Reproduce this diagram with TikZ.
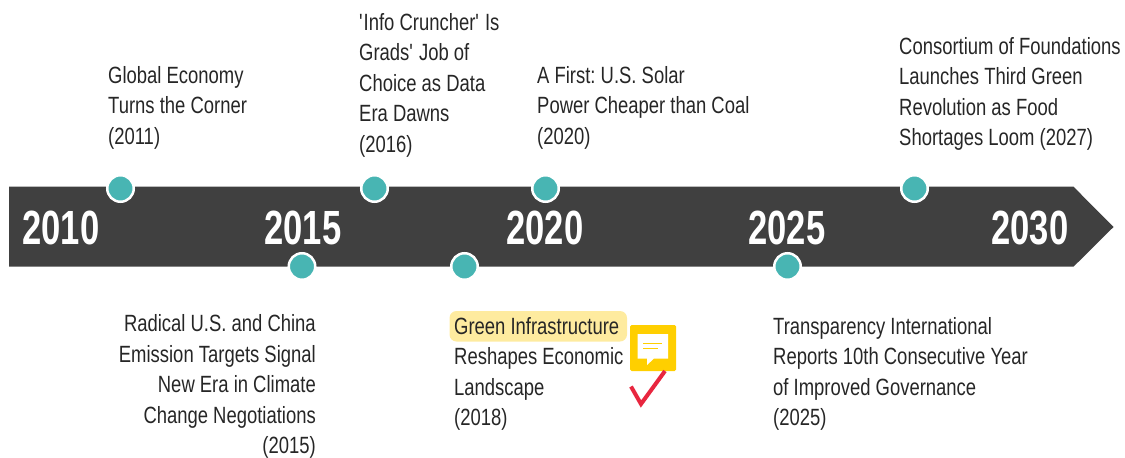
\documentclass[tikz,border=0pt]{standalone}
\usepackage{fontspec}
\setmainfont[FakeStretch=0.785]{Liberation Sans}
\newfontfamily\yearfont[FakeStretch=0.72]{Liberation Sans}
\definecolor{bandgray}{HTML}{404040}
\definecolor{dotteal}{HTML}{48B5B3}
\definecolor{inktext}{HTML}{262626}
\definecolor{marklight}{HTML}{FEEB9F}
\definecolor{noteyellow}{HTML}{FFCF00}
\definecolor{tickred}{HTML}{E8263F}
\tikzset{
  yearlabel/.style={text=white, inner sep=0pt, font=\yearfont\bfseries\fontsize{48}{48}\selectfont},
  dot/.style={circle, fill=dotteal, draw=white, line width=2.5pt, minimum size=26.5pt, inner sep=0pt},
  headline/.style={text=inktext, inner sep=0pt, align=left, anchor=north west, font=\frenchspacing\fontsize{23.5}{30.5}\selectfont},
}
\begin{document}
\begin{tikzpicture}
\useasboundingbox (0pt, 0pt) rectangle (1125pt, -458pt);
\fill[bandgray] (9pt, -186.7pt) -- (1073.5pt, -186.7pt) -- (1113.5pt, -227pt) -- (1073.5pt, -266.7pt) -- (9pt, -266.7pt) -- cycle;
\node[yearlabel] (y2010) at (61pt, -228pt) {2010};
\node[yearlabel] (y2015) at (303pt, -228pt) {2015};
\node[yearlabel] (y2020) at (545pt, -228pt) {2020};
\node[yearlabel] (y2025) at (787pt, -228pt) {2025};
\node[yearlabel] (y2030) at (1030pt, -228pt) {2030};
\node[dot] (d2011) at (120.5pt, -188.5pt) {};
\node[dot] (d2015) at (302pt, -266.5pt) {};
\node[dot] (d2016) at (374.5pt, -188.5pt) {};
\node[dot] (d2018) at (464.5pt, -266.5pt) {};
\node[dot] (d2020) at (545.5pt, -188.5pt) {};
\node[dot] (d2025) at (787.5pt, -266.5pt) {};
\node[dot] (d2027) at (914.5pt, -188.5pt) {};
\node[headline] (t2011) at (108pt, -66pt) {Global Economy\\Turns the Corner\\(2011)};
\node[headline] (t2016) at (359pt, -13pt) {\textquotesingle Info Cruncher\textquotesingle{} Is\\Grads\textquotesingle{} Job of\\Choice as Data\\Era Dawns\\(2016)};
\node[headline] (t2020) at (537pt, -66pt) {A First: U.S. Solar\\Power Cheaper than Coal\\(2020)};
\node[headline] (t2027) at (899pt, -37pt) {Consortium of Foundations\\Launches Third Green\\Revolution as Food\\Shortages Loom (2027)};
\node[headline, align=right, anchor=north east] (t2015) at (316pt, -314.5pt) {Radical U.S. and China\\Emission Targets Signal\\New Era in Climate\\Change Negotiations\\(2015)};
\fill[marklight, rounded corners=7pt] (449.5pt, -311pt) rectangle (627pt, -341.5pt);
\node[headline] (t2018) at (454pt, -317pt) {Green Infrastructure\\Reshapes Economic\\Landscape\\(2018)};
\node[headline] (t2025) at (773pt, -317pt) {Transparency International\\Reports 10th Consecutive Year\\of Improved Governance\\(2025)};
% note and tick
\fill[noteyellow, rounded corners=1.5pt] (630pt, -325pt) rectangle (676pt, -371pt);
\fill[white] (637.5pt, -334pt) -- (668pt, -334pt) -- (668pt, -358.5pt) -- (654pt, -358.5pt) -- (647pt, -365pt) -- (647pt, -358.5pt) -- (637.5pt, -358.5pt) -- cycle;
\draw[noteyellow, line width=1pt] (643pt, -343.5pt) -- (662pt, -343.5pt);
\draw[noteyellow, line width=1pt] (643pt, -348.5pt) -- (658pt, -348.5pt);
\draw[tickred, line width=4pt] (631pt, -386.5pt) -- (641pt, -404pt) -- (665pt, -371pt);
\end{tikzpicture}
\end{document}
